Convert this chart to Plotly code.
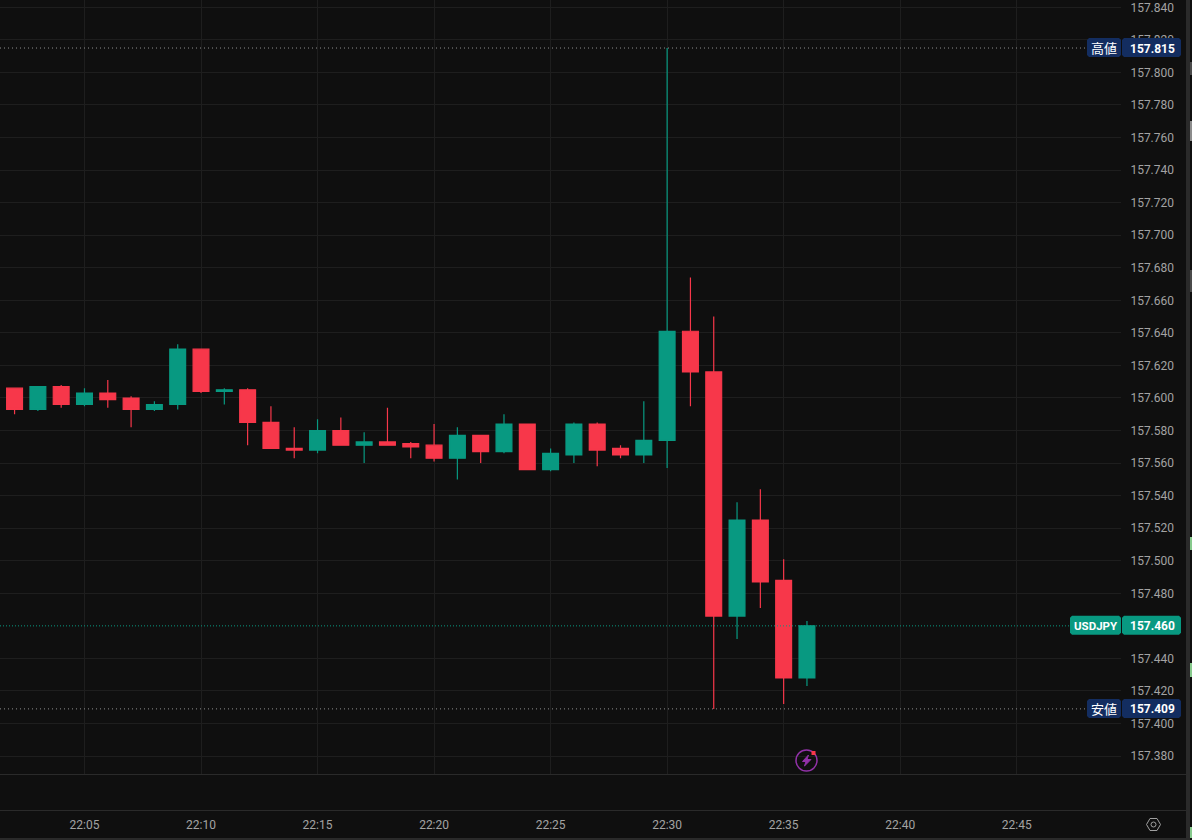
import plotly.graph_objects as go

# USDJPY 1 minute candles
times = ['2024-06-03 22:%02d' % m for m in range(2, 37)]
opens = [157.606, 157.593, 157.607, 157.596, 157.603, 157.600, 157.593, 157.596, 157.630, 157.604,
         157.605, 157.585, 157.569, 157.568, 157.580, 157.571, 157.573, 157.572, 157.571, 157.563,
         157.577, 157.567, 157.584, 157.556, 157.565, 157.584, 157.569, 157.565, 157.574, 157.641,
         157.616, 157.466, 157.525, 157.488, 157.428]
highs = [157.606, 157.607, 157.608, 157.606, 157.611, 157.601, 157.598, 157.633, 157.630, 157.606,
         157.606, 157.595, 157.582, 157.587, 157.588, 157.579, 157.594, 157.573, 157.584, 157.582,
         157.577, 157.590, 157.584, 157.569, 157.585, 157.585, 157.571, 157.598, 157.815, 157.674,
         157.650, 157.536, 157.544, 157.501, 157.463]
lows = [157.590, 157.592, 157.594, 157.595, 157.594, 157.582, 157.592, 157.593, 157.603, 157.596,
        157.571, 157.569, 157.563, 157.566, 157.571, 157.560, 157.571, 157.563, 157.561, 157.550,
        157.560, 157.566, 157.556, 157.555, 157.560, 157.558, 157.563, 157.560, 157.557, 157.595,
        157.409, 157.452, 157.471, 157.412, 157.423]
closes = [157.593, 157.607, 157.596, 157.603, 157.599, 157.593, 157.596, 157.630, 157.604, 157.605,
          157.585, 157.569, 157.568, 157.580, 157.571, 157.573, 157.571, 157.570, 157.563, 157.577,
          157.567, 157.584, 157.556, 157.566, 157.584, 157.568, 157.565, 157.574, 157.641, 157.616,
          157.466, 157.525, 157.487, 157.428, 157.460]

# 157.460 sits under the last price tag, so it is left out
price_ticks = [157.38, 157.40, 157.42, 157.44, 157.48, 157.50, 157.52, 157.54, 157.56, 157.58, 157.60,
               157.62, 157.64, 157.66, 157.68, 157.70, 157.72, 157.74, 157.76, 157.78, 157.80, 157.82, 157.84]
time_ticks = ['2024-06-03 22:%02d' % m for m in range(5, 50, 5)]
time_labels = ['22:%02d' % m for m in range(5, 50, 5)]

BG = '#0f0f0f'
GRID = '#1e1e1e'
UP = '#089981'
DOWN = '#f7374a'
NAVY = '#132d60'
TEXT = '#a3a3a3'
FONT = 'Roboto'

W, H = 1192, 840
PANE_W, PANE_H = 1121, 774


# pixel position on the page -> paper fractions
def fx(px):
    return px / PANE_W


def fy(py):
    return 1 - py / PANE_H


def page_rect(x0, y0, x1, y1, color):
    return dict(type='rect', xref='paper', yref='paper', x0=fx(x0), x1=fx(x1), y0=fy(y0), y1=fy(y1),
                fillcolor=color, line_width=0, layer='above')


def page_line(x0, y0, x1, y1, color, width=1):
    return dict(type='line', xref='paper', yref='paper', x0=fx(x0), x1=fx(x1), y0=fy(y0), y1=fy(y1),
                line=dict(color=color, width=width), layer='above')


def page_path(points, color, width=1.5, fill='rgba(0,0,0,0)'):
    d = 'M ' + ' L '.join('%.5f,%.5f' % (fx(a), fy(b)) for a, b in points) + ' Z'
    return dict(type='path', xref='paper', yref='paper', path=d, fillcolor=fill,
                line=dict(color=color, width=width), layer='above')


# rounded tag pinned to a price, height in pixels
def tag(x0, x1, price, color):
    r = 2
    top, bottom = -9, 10
    pts = [(x0 + r, top), (x1 - r, top), (x1, top + r), (x1, bottom - r),
           (x1 - r, bottom), (x0 + r, bottom), (x0, bottom - r), (x0, top + r)]
    d = 'M ' + ' L '.join('%.5f,%g' % (fx(a), b) for a, b in pts) + ' Z'
    return dict(type='path', xref='paper', yref='y', ysizemode='pixel', yanchor=price, path=d,
                fillcolor=color, line_width=0, layer='above')


def tag_text(px, price, text, bold=True, size=12):
    return dict(xref='paper', yref='y', x=fx(px), y=price, yshift=-0.5, text=text, showarrow=False, xanchor='center',
                yanchor='middle', font=dict(family=FONT + ', Noto Sans CJK JP', size=size, color='#ffffff',
                                            weight='bold' if bold else 'normal'))


fig = go.Figure(go.Candlestick(
    x=times, open=opens, high=highs, low=lows, close=closes,
    whiskerwidth=0,
    increasing=dict(line=dict(color=UP, width=1.2), fillcolor=UP),
    decreasing=dict(line=dict(color=DOWN, width=1.2), fillcolor=DOWN),
    showlegend=False,
))

high_price = max(highs)
low_price = min(lows)
last_price = closes[-1]

shapes = [
    # price lines
    dict(type='line', xref='paper', yref='y', x0=0, x1=fx(1087), y0=high_price, y1=high_price,
         line=dict(color='#8f8f8f', width=1, dash='1px 3px'), layer='above'),
    dict(type='line', xref='paper', yref='y', x0=0, x1=fx(1087), y0=low_price, y1=low_price,
         line=dict(color='#8f8f8f', width=1, dash='1px 3px'), layer='above'),
    dict(type='line', xref='paper', yref='y', x0=0, x1=fx(1070), y0=last_price, y1=last_price,
         line=dict(color=UP, width=1, dash='1px 2px'), layer='above'),
    tag(1087, 1121, high_price, NAVY),
    tag(1122, 1181, high_price, NAVY),
    tag(1087, 1121, low_price, NAVY),
    tag(1122, 1181, low_price, NAVY),
    tag(1070, 1121, last_price, UP),
    tag(1122, 1181, last_price, UP),
    # pane borders
    page_line(0, 774.5, 1186, 774.5, '#2a2a2a'),
    page_line(0, 810.5, 1186, 810.5, '#2a2a2a'),
    page_rect(1186, 0, 1190, 840, '#2a2a2a'),
    page_rect(0, 838, 1186, 840, '#2a2a2a'),
    # window strip on the far right
    page_rect(1190, 62, 1192, 75, '#4a4a4a'),
    page_rect(1190, 121, 1192, 141, '#8c8c8c'),
    page_rect(1190, 270, 1192, 292, '#4a4a4a'),
    page_rect(1190, 537, 1192, 550, '#86c98c'),
    page_rect(1190, 663, 1192, 677, '#86c98c'),
    page_rect(1190, 827, 1192, 838, '#86c98c'),
    # lightning badge
    dict(type='circle', xref='paper', yref='paper', x0=fx(796), x1=fx(817), y0=fy(750), y1=fy(771),
         line=dict(color='#9232a8', width=1.5), fillcolor='rgba(0,0,0,0)', layer='above'),
    page_path([(808.5, 755), (802.5, 761.5), (806, 761.5), (804.5, 766), (811, 759.5), (807, 759.5)],
              '#9232a8', 1, '#9232a8'),
    page_rect(811.5, 751, 815.5, 755, DOWN),
    # settings hexagon
    page_path([(1146.5, 824.5), (1150, 818.5), (1157, 818.5), (1160.5, 824.5), (1157, 830.5), (1150, 830.5)],
              '#a0a0a0', 1),
    dict(type='circle', xref='paper', yref='paper', x0=fx(1151), x1=fx(1156), y0=fy(822), y1=fy(827),
         line=dict(color='#a0a0a0', width=1), fillcolor='rgba(0,0,0,0)', layer='above'),
]

annotations = [
    tag_text(1104, high_price, '高値', False, 13),
    tag_text(1152, high_price, '%.3f' % high_price),
    tag_text(1104, low_price, '安値', False, 13),
    tag_text(1152, low_price, '%.3f' % low_price),
    tag_text(1095.5, last_price, 'USDJPY', True, 11.5),
    tag_text(1152, last_price, '%.3f' % last_price),
]

fig.update_layout(
    width=W, height=H,
    margin=dict(l=0, r=W - PANE_W, t=0, b=H - PANE_H, pad=0),
    paper_bgcolor=BG, plot_bgcolor=BG,
    boxgap=0.32, boxgroupgap=0,
    shapes=shapes, annotations=annotations,
    font=dict(family=FONT, size=12, color=TEXT),
    xaxis=dict(
        type='date',
        range=['2024-06-03 22:01:22.500', '2024-06-03 22:49:28.500'],
        rangeslider=dict(visible=False),
        tickmode='array', tickvals=time_ticks, ticktext=time_labels,
        ticks='outside', ticklen=40, tickcolor='rgba(0,0,0,0)',
        gridcolor=GRID, gridwidth=1, showline=False, zeroline=False,
        tickfont=dict(family=FONT, size=12, color=TEXT),
    ),
    yaxis=dict(
        side='right',
        range=[157.369, 157.8445],
        tickmode='array', tickvals=price_ticks, tickformat='.3f',
        ticks='outside', ticklen=6, tickcolor='rgba(0,0,0,0)',
        gridcolor=GRID, gridwidth=1, showline=False, zeroline=False,
        tickfont=dict(family=FONT, size=12, color=TEXT),
    ),
)

fig.write_html('out.html', config={'displayModeBar': False},
               post_script="document.body.style.margin='0';document.body.style.overflow='hidden';")
